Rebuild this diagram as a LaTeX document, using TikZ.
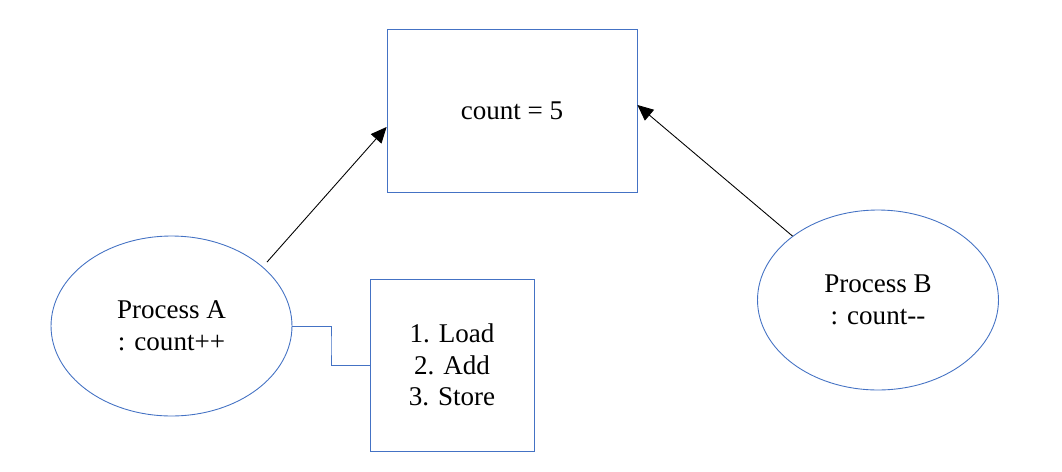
\documentclass[tikz,border=0pt]{standalone}
\usepackage{fontspec}
\setmainfont{Liberation Serif}
\usetikzlibrary{shapes.geometric,arrows.meta,calc}
\definecolor{edgeblue}{RGB}{68,114,196}
\tikzset{block/.style = {draw=edgeblue, fill=white, line width=0.5pt, rectangle, align=center, font=\fontsize{15.4}{18}\selectfont},
         proc/.style = {draw=edgeblue, fill=white, line width=0.5pt, ellipse, minimum width=4.82cm, minimum height=3.6cm, inner sep=0pt, align=center, font=\fontsize{15.4}{18}\selectfont},
         arr/.style = {-{Triangle[length=9pt,width=8pt]}, line width=0.5pt},
         link/.style = {draw=edgeblue, line width=0.5pt}}

\begin{document}
\begin{tikzpicture}[x=0.02cm,y=-0.02cm]
    \useasboundingbox (0,0) rectangle (1062,471);
    \node[block, minimum width=5cm, minimum height=3.26cm](cnt)at(512,110.5){count = 5};
    \node[block, minimum width=3.28cm, minimum height=3.44cm](ops)at(452,365){1. Load\\2. Add\\3. Store};
    \node[proc](pa)at(171.5,326){Process A\\: count++};
    \node[proc](pb)at(878,300){Process B\\: count\mbox{-}\mbox{-}};
    \draw[arr]([xshift=0.2cm]pa.north east)--([yshift=-0.33cm]cnt.west);
    \draw[arr](pb.north west)--([yshift=0.11cm]cnt.east);
    \draw[link](pa.east)-|($(pa.east)!0.5!(ops.west)$)|-(ops.west);
\end{tikzpicture}
\end{document}
